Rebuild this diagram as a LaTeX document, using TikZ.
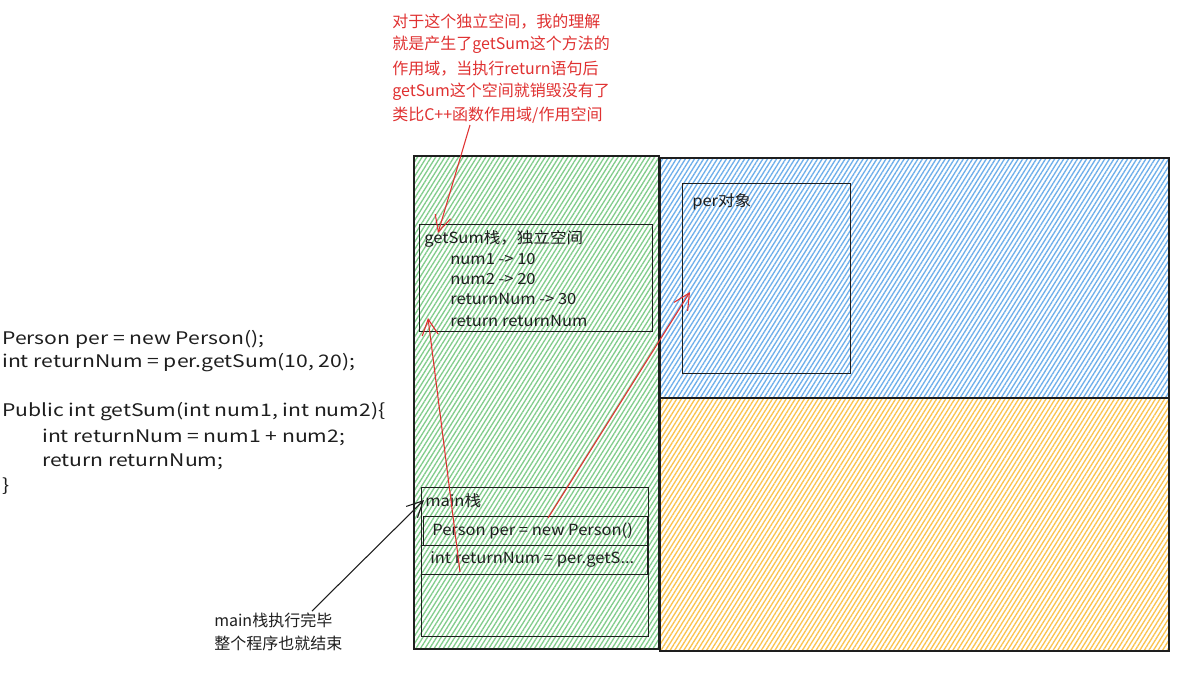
\documentclass[tikz,border=0pt]{standalone}
\usepackage{fontspec}
\setmainfont{Noto Sans CJK SC}
\newfontfamily\codefont[FakeStretch=1.22]{Noto Sans CJK SC}
\newfontfamily\lblfont[FakeStretch=1.08]{Noto Sans CJK SC}
\usetikzlibrary{patterns.meta,arrows.meta}
\definecolor{redtxt}{RGB}{224,49,49}
\definecolor{ink}{RGB}{30,30,30}
\definecolor{hgreen}{RGB}{130,205,140}
\definecolor{hblue}{RGB}{110,175,235}
\definecolor{hyellow}{RGB}{250,195,80}
\begin{document}
\begin{tikzpicture}[x=0.75pt,y=-0.75pt,
  box/.style={draw=ink,line width=1.4pt,inner sep=0pt,anchor=north west},
  inbox/.style={draw=ink,line width=1pt,inner sep=0pt,anchor=north west},
  hg/.style={pattern={Lines[angle=58,distance=2.9pt,line width=1pt]},pattern color=hgreen},
  hb/.style={pattern={Lines[angle=58,distance=2.9pt,line width=1pt]},pattern color=hblue},
  hy/.style={pattern={Lines[angle=58,distance=2.9pt,line width=1pt]},pattern color=hyellow},
  code/.style={anchor=west,inner sep=0pt,font=\codefont\fontsize{13pt}{16pt}\selectfont,text=ink},
  lbl/.style={anchor=west,inner sep=0pt,font=\lblfont\fontsize{11.5pt}{14pt}\selectfont,text=ink},
  note/.style={anchor=west,inner sep=0pt,font=\fontsize{12pt}{14pt}\selectfont,text=redtxt},
  redarr/.style={draw=redtxt,line width=0.8pt,-{Straight Barb[length=12pt,width=12pt]}},
  blkarr/.style={draw=ink,line width=0.8pt,-{Straight Barb[length=12pt,width=12pt]}}
]
\useasboundingbox (0,0) rectangle (1192,672);
\fill[white] (0,0) rectangle (1192,672);

% red note
\node[note] (n1) at (392,22) {对于这个独立空间，我的理解};
\node[note] (n2) at (392,45) {就是产生了getSum这个方法的};
\node[note] (n3) at (392,69) {作用域，当执行return语句后};
\node[note] (n4) at (392,92) {getSum这个空间就销毁没有了};
\node[note] (n5) at (392,115) {类比C++函数作用域/作用空间};

% big boxes
\node[box,hg,minimum width=245*0.75pt,minimum height=493*0.75pt] (stack) at (413,155) {};
\node[box,hb,minimum width=509*0.75pt,minimum height=240*0.75pt] (heap) at (659,157) {};
\node[box,hy,minimum width=509*0.75pt,minimum height=253*0.75pt] (other) at (659,397) {};

% per object
\node[inbox,minimum width=168*0.75pt,minimum height=190*0.75pt] (per) at (682,183) {};
\node[lbl] (perl) at (692,202) {per对象};

% getSum frame
\node[inbox,minimum width=233*0.75pt,minimum height=107*0.75pt] (gs) at (419,224) {};
\node[lbl] (gs0) at (424,239) {getSum栈，独立空间};
\node[lbl] (gs1) at (450,259) {num1 -> 10};
\node[lbl] (gs2) at (450,279) {num2 -> 20};
\node[lbl] (gs3) at (450,299) {returnNum -> 30};
\node[lbl] (gs4) at (450,321) {return returnNum};

% main frame
\node[inbox,minimum width=227*0.75pt,minimum height=149*0.75pt] (mf) at (421,487) {};
\node[lbl] (mfl) at (425,501) {main栈};
\node[inbox,minimum width=224*0.75pt,minimum height=29*0.75pt] (r1) at (423,516) {};
\node[lbl] (r1t) at (432,531) {Person per = new Person()};
\node[inbox,minimum width=226*0.75pt,minimum height=29*0.75pt] (r2) at (421,545) {};
\node[lbl] (r2t) at (430,559) {int returnNum = per.getS...};

% code on the left
\node[code] (c1) at (2,339) {Person per = new Person();};
\node[code] (c2) at (2,363) {int returnNum = per.getSum(10, 20);};
\node[code] (c3) at (2,412) {Public int getSum(int num1, int num2)\{};
\node[code] (c4) at (42,437) {int returnNum = num1 + num2;};
\node[code] (c5) at (42,462) {return returnNum;};
\node[code] (c6) at (2,486) {\}};

% bottom note
\node[note,text=ink] (b1) at (214,620) {main栈执行完毕};
\node[note,text=ink] (b2) at (214,643) {整个程序也就结束};

% connectors
\coordinate (a1s) at (470,125);
\coordinate (a1e) at (438,233);
\draw[redarr] (a1s) -- (a1e);
\coordinate (a2s) at (460,572);
\coordinate (a2e) at (428,318);
\draw[redarr] (a2s) -- (a2e);
\coordinate (a3s) at (548,518);
\coordinate (a3e) at (690,292);
\draw[redarr] (a3s) -- (a3e);
\coordinate (a4s) at (312,611);
\coordinate (a4e) at (424,500);
\draw[blkarr] (a4s) -- (a4e);
\end{tikzpicture}
\end{document}
